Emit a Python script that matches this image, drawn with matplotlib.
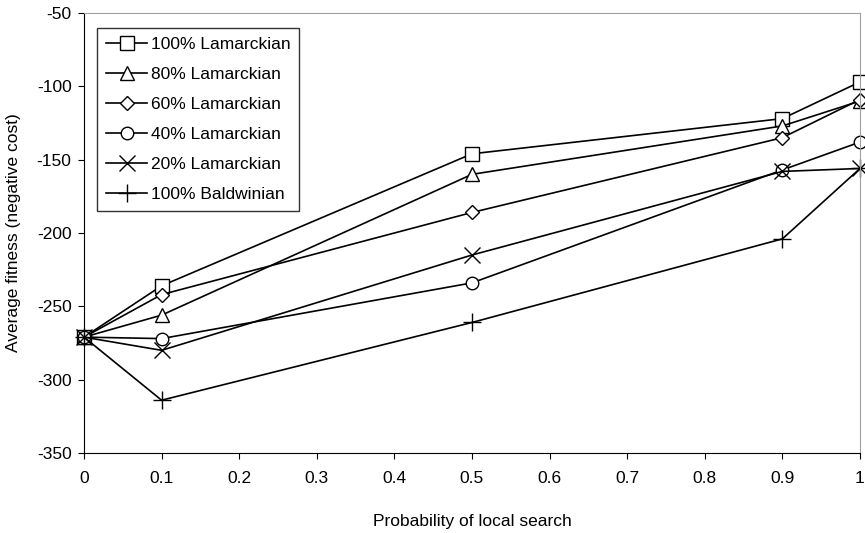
import matplotlib.pyplot as plt

plt.rcParams['font.family'] = ['Liberation Sans', 'DejaVu Sans']
plt.rcParams['axes.unicode_minus'] = False

# probability of local search
prob = [0, 0.1, 0.5, 0.9, 1.0]

# average fitness per strategy
lam100 = [-271, -236, -146, -122, -97]
lam80 = [-271, -256, -160, -127, -110]
lam60 = [-271, -242, -186, -135, -109]
lam40 = [-271, -272, -234, -157, -138]
lam20 = [-271, -280, -215, -158, -156]
bald100 = [-271, -314, -261, -204, -156]

labels = ['100% Lamarckian', '80% Lamarckian', '60% Lamarckian',
          '40% Lamarckian', '20% Lamarckian', '100% Baldwinian']
series = [lam100, lam80, lam60, lam40, lam20, bald100]
markers = ['s', '^', 'D', 'o', 'x', '+']
msizes = [10, 10, 7, 9, 11, 13]

fig = plt.figure(figsize=(8.65, 5.33), dpi=100)
ax = fig.add_axes([84 / 865, 1 - 453 / 533, 776 / 865, 440 / 533])

for ys, lab, m, ms in zip(series, labels, markers, msizes):
    ax.plot(prob, ys, color='black', lw=1.2, marker=m, ms=ms,
            mfc='white', mec='black', mew=1.0, label=lab, clip_on=False)

ax.set_xlim(0, 1)
ax.set_ylim(-350, -50)
ax.set_xticks([i / 10 for i in range(11)])
ax.set_xticklabels(['0'] + ['0.%d' % i for i in range(1, 10)] + ['1'])
ax.set_yticks(range(-350, -49, 50))
ax.tick_params(direction='out', length=4, labelsize=12.5, colors='black')
ax.tick_params(axis='x', pad=9)
ax.tick_params(axis='y', pad=5)
for s in ['top', 'right']:
    ax.spines[s].set_color('#a0a0a0')
for s in ['left', 'bottom']:
    ax.spines[s].set_color('black')

ax.set_xlabel('Probability of local search', fontsize=12.5, labelpad=20)
ax.set_ylabel('Average fitness (negative cost)', fontsize=12.5, labelpad=11)

leg = ax.legend(loc='upper left', bbox_to_anchor=(97 / 865, 1 - 28 / 533),
                bbox_transform=fig.transFigure, fontsize=12.5, frameon=True,
                fancybox=False, edgecolor='black', handlelength=2.4,
                labelspacing=0.86, borderpad=0.5, handletextpad=0.2,
                borderaxespad=0)
leg.get_frame().set_linewidth(1.0)

fig.savefig('out.png', dpi=100)
